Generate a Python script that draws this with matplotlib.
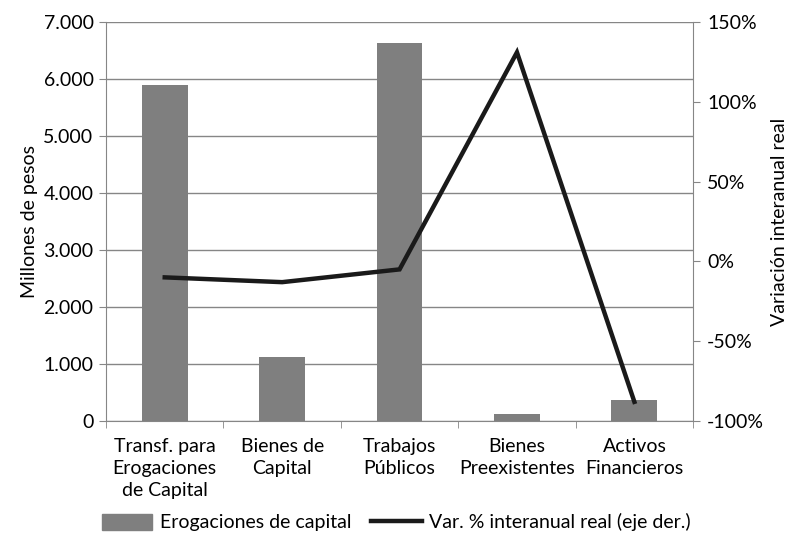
import numpy as np
import matplotlib.pyplot as plt
from matplotlib.ticker import FuncFormatter
from matplotlib.lines import Line2D
from matplotlib.patches import Patch

plt.rcParams['font.family'] = ['Lato', 'DejaVu Sans']

categories = ["Transf. para\nErogaciones\nde Capital", "Bienes de\nCapital", "Trabajos\nPúblicos",
              "Bienes\nPreexistentes", "Activos\nFinancieros"]
erogaciones = [5900, 1120, 6630, 120, 370]
var_real = [-10, -13, -5, 131, -88]

left_ticks = [0, 1000, 2000, 3000, 4000, 5000, 6000, 7000]
right_ticks = [-100, -50, 0, 50, 100, 150]

grey = '#7f7f7f'
axis_grey = '#868686'
fs = 14

fig = plt.figure(figsize=(7.93, 5.34), dpi=100)
ax = fig.add_axes([0.1337, 0.2116, 0.7403, 0.7472])
x = np.arange(len(categories))

ax.bar(x, erogaciones, width=0.39, color=grey, zorder=2)
ax.set_xlim(-0.5, len(categories) - 0.5)
ax.set_ylim(0, 7000)
ax.set_yticks(left_ticks)
ax.yaxis.set_major_formatter(FuncFormatter(lambda v, p: f"{int(v):,}".replace(",", ".")))
ax.grid(axis='y', color=axis_grey, linewidth=1, zorder=0)
ax.set_axisbelow(True)
ax.set_xticks(x)
ax.set_xticklabels(categories, fontsize=fs, linespacing=1.38)
ax.set_xticks(np.arange(-0.5, len(categories)), minor=True)
ax.tick_params(axis='x', which='major', length=0, pad=12)
ax.tick_params(axis='x', which='minor', length=5, color=axis_grey)
ax.tick_params(axis='y', length=5, color=axis_grey, labelsize=fs, pad=4)
ax.set_ylabel("Millones de pesos", fontsize=fs, labelpad=4)
for s in ['top', 'right']:
    ax.spines[s].set_visible(False)
for s in ['left', 'bottom']:
    ax.spines[s].set_color(axis_grey)

ax2 = ax.twinx()
ax2.plot(x, var_real, color='#1a1a1a', linewidth=3.2, solid_joinstyle='miter', zorder=3)
ax2.set_ylim(-100, 150)
ax2.set_yticks(right_ticks)
ax2.yaxis.set_major_formatter(FuncFormatter(lambda v, p: f"{int(v)}%"))
ax2.tick_params(axis='y', length=5, color=axis_grey, labelsize=fs, pad=5)
ax2.set_ylabel("Variación interanual real", fontsize=fs, labelpad=5)
for s in ['top', 'left', 'bottom']:
    ax2.spines[s].set_visible(False)
ax2.spines['right'].set_color(axis_grey)

handles = [Patch(color=grey), Line2D([0], [0], color='#1a1a1a', linewidth=3.2)]
labels = ["Erogaciones de capital", "Var. % interanual real (eje der.)"]
fig.legend(handles, labels, loc='lower center', bbox_to_anchor=(0.5, -0.028), ncol=2,
           frameon=False, fontsize=fs, handlelength=2.6, handleheight=0.9, columnspacing=1.0,
           handletextpad=0.4)

fig.savefig("out.png", dpi=100)
